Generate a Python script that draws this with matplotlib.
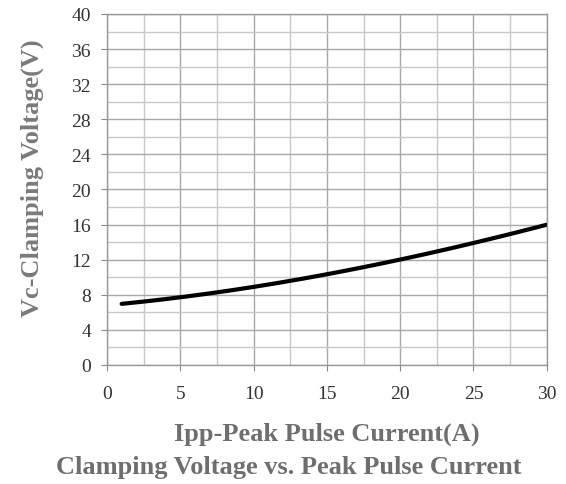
import matplotlib.pyplot as plt
import numpy as np
from matplotlib.ticker import MultipleLocator

# values
ipp = [1, 2.5, 5, 7.5, 10, 12.5, 15, 17.5, 20, 22.5, 25, 27.5, 30]
vc = [6.95, 7.25, 7.7, 8.25, 8.95, 9.6, 10.35, 11.1, 11.95, 12.95, 13.95, 14.95, 15.95]

x_ticks = [0, 5, 10, 15, 20, 25, 30]
y_ticks = [0, 4, 8, 12, 16, 20, 24, 28, 32, 36, 40]

plt.rcParams['font.family'] = ['Liberation Serif', 'DejaVu Serif']

fig = plt.figure(figsize=(5.66, 4.85), dpi=100)
ax = fig.add_axes([0.189, 0.2454, 0.777, 0.7237])

ax.set_xlim(0, 30)
ax.set_ylim(0, 40)
ax.set_xticks(x_ticks)
ax.set_yticks(y_ticks)
ax.xaxis.set_minor_locator(MultipleLocator(2.5))
ax.yaxis.set_minor_locator(MultipleLocator(2))
ax.grid(which='major', color='#a8a8a8', linewidth=1.0)
ax.grid(which='minor', color='#c8c8c8', linewidth=1.0)
ax.set_axisbelow(True)

for s in ax.spines.values():
    s.set_color('#999999')
    s.set_linewidth(1.0)

ax.tick_params(which='major', length=4.5, color='#888888', labelsize=14,
               labelcolor='#333333')
ax.tick_params(axis='x', pad=10)
ax.tick_params(axis='y', pad=7)
ax.tick_params(which='minor', length=0)

# smooth the curve through the read points
xs = np.linspace(ipp[0], ipp[-1], 200)
coef = np.polyfit(ipp, vc, 3)
ax.plot(xs, np.polyval(coef, xs), color='black', linewidth=3, solid_capstyle='round')

ax.set_ylabel('Vc-Clamping Voltage(V)', fontsize=19, fontweight='bold',
              color='#7a7a7a')
ax.yaxis.set_label_coords(-0.143, 0.535)
ax.set_xlabel('Ipp-Peak Pulse Current(A)', fontsize=19, fontweight='bold',
              color='#6e6e6e', labelpad=14)
fig.text(0.51, 0.037, 'Clamping Voltage vs. Peak Pulse Current', fontsize=19,
         fontweight='bold', color='#6e6e6e', ha='center', va='center')

fig.savefig('out.png', dpi=100)
